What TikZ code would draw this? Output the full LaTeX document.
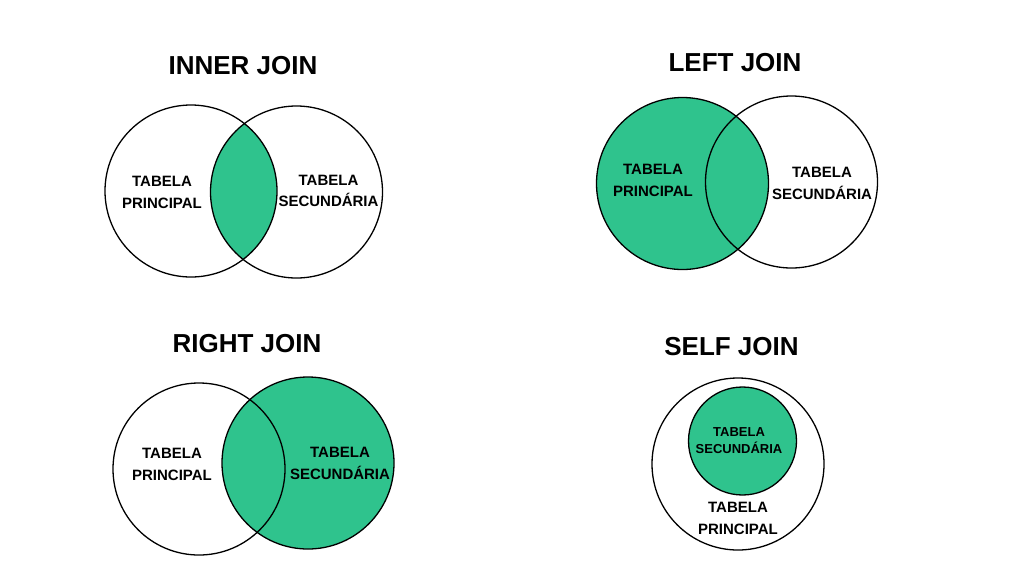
\documentclass[tikz,border=0pt]{standalone}
\usepackage{fontspec}
\setmainfont{Liberation Sans}
\definecolor{joingreen}{RGB}{47,195,141}
\tikzset{
  ttl/.style={anchor=base, font=\fontsize{26}{30}\selectfont\bfseries, inner sep=0pt},
  lbl/.style={anchor=center, align=center, inner sep=0pt, font=\fontsize{15}{21.5}\selectfont\bfseries},
  slbl/.style={anchor=center, align=center, inner sep=0pt, font=\fontsize{13}{17}\selectfont\bfseries},
  ring/.style={draw=black, line width=1.3pt},
  greenfill/.style={fill=joingreen}
}
\begin{document}
\begin{tikzpicture}[x=1pt,y=-1pt]
\useasboundingbox (0,0) rectangle (1024,576);
\fill[white] (0,0) rectangle (1024,576);

% INNER JOIN
\node[ttl] (tInner) at (243,74) {INNER JOIN};
\begin{scope}
  \clip (191,191) circle (86pt);
  \fill[greenfill] (296.5,192) circle (86pt);
\end{scope}
\draw[ring] (191,191) circle (86pt);
\draw[ring] (296.5,192) circle (86pt);
\node[lbl] (iA) at (162,192.5) {TABELA\\PRINCIPAL};
\node[lbl] (iB) at (328.5,191) {TABELA\\SECUNDÁRIA};

% LEFT JOIN
\node[ttl] (tLeft) at (735,71) {LEFT JOIN};
\fill[greenfill] (682.5,183.5) circle (86pt);
\draw[ring] (682.5,183.5) circle (86pt);
\draw[ring] (791.5,182) circle (86pt);
\node[lbl] (lA) at (653,180.5) {TABELA\\PRINCIPAL};
\node[lbl] (lB) at (822,183.5) {TABELA\\SECUNDÁRIA};

% RIGHT JOIN
\node[ttl] (tRight) at (247,352) {RIGHT JOIN};
\fill[greenfill] (308,463) circle (86pt);
\draw[ring] (199,469) circle (86pt);
\draw[ring] (308,463) circle (86pt);
\node[lbl] (rA) at (172,464.5) {TABELA\\PRINCIPAL};
\node[lbl] (rB) at (340,463.5) {TABELA\\SECUNDÁRIA};

% SELF JOIN
\node[ttl] (tSelf) at (731.5,355) {SELF JOIN};
\draw[ring] (738,464) circle (86pt);
\fill[greenfill] (742.5,441) circle (54pt);
\draw[ring] (742.5,441) circle (54pt);
\node[slbl] (sB) at (739,440.5) {TABELA\\SECUNDÁRIA};
\node[lbl] (sA) at (738,518.5) {TABELA\\PRINCIPAL};
\end{tikzpicture}
\end{document}
